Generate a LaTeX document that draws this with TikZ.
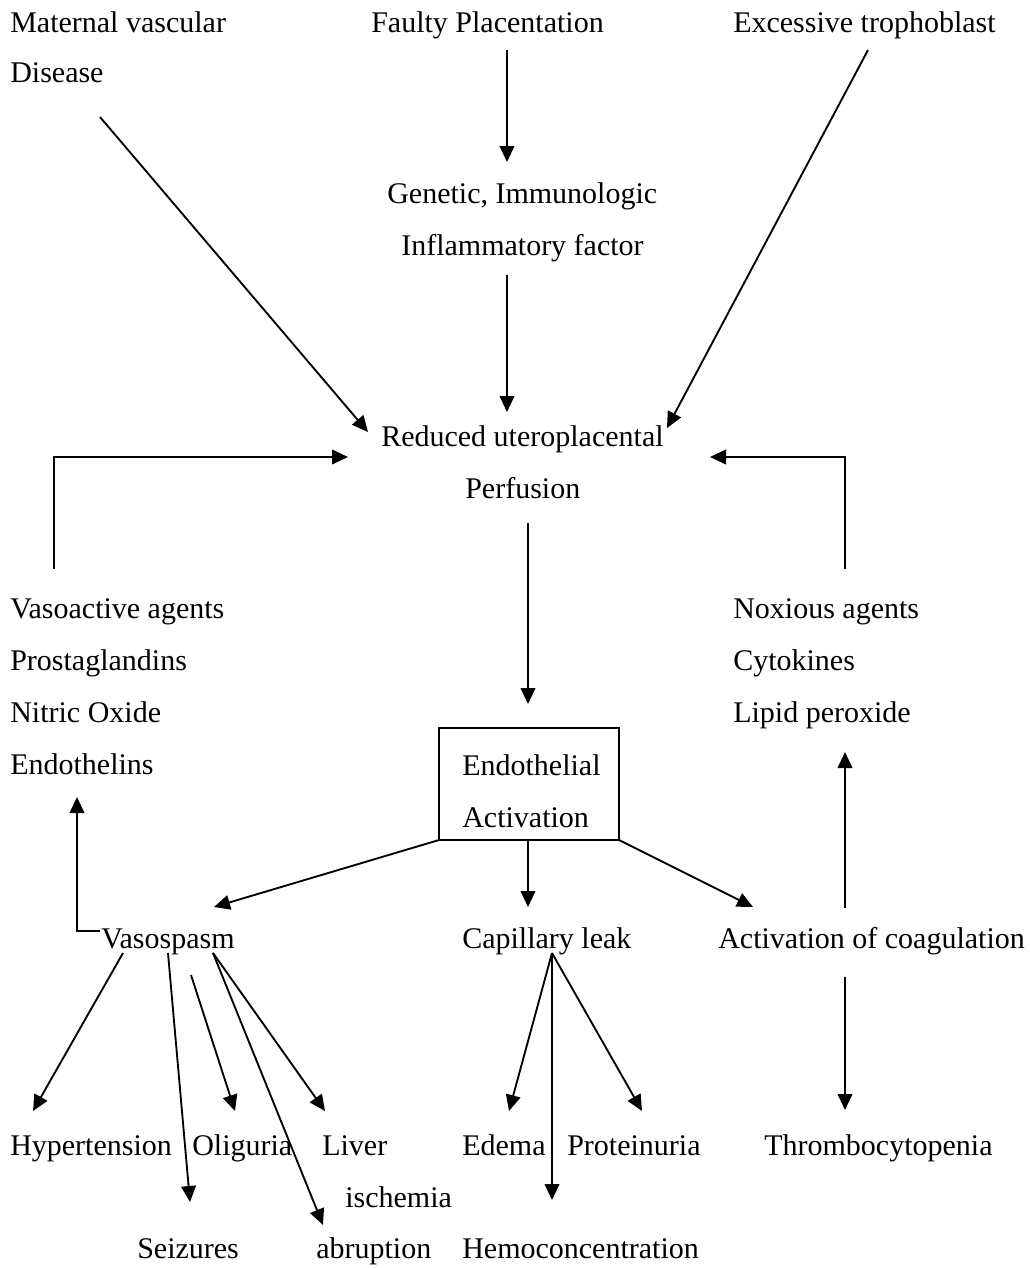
\documentclass[tikz,border=0pt]{standalone}
\usepackage{fontspec}
\setmainfont{Liberation Serif}
\usetikzlibrary{arrows.meta}
\newcommand{\dfs}{\fontsize{22.5}{27}\selectfont}
\tikzset{
  txt/.style={anchor=base west, inner sep=0pt, font=\dfs},
  arr/.style={-{Triangle[length=12pt,width=11pt]}, line width=1.4pt},
  boxnode/.style={draw, line width=1.4pt, minimum width=135pt, minimum height=84pt, inner sep=0pt}
}
\begin{document}
\begin{tikzpicture}[x=0.75pt,y=-0.75pt]
\path[use as bounding box] (0,0) rectangle (1030,1268);
% texts
\node[txt] (maternal) at (10,32) {Maternal vascular};
\node[txt] (disease) at (10,82) {Disease};
\node[txt] (faulty) at (371,32) {Faulty Placentation};
\node[txt] (excess) at (733,32) {Excessive trophoblast};
\node[txt] (genetic) at (387,203) {Genetic, Immunologic};
\node[txt] (inflam) at (401,255) {Inflammatory factor};
\node[txt] (reduced) at (381,446) {Reduced uteroplacental};
\node[txt] (perf) at (465,498) {Perfusion};
\node[txt] (vaso) at (10,618) {Vasoactive agents};
\node[txt] (prosta) at (10,670) {Prostaglandins};
\node[txt] (nitric) at (10,722) {Nitric Oxide};
\node[txt] (endothelins) at (10,774) {Endothelins};
\node[txt] (noxious) at (733,618) {Noxious agents};
\node[txt] (cyto) at (733,670) {Cytokines};
\node[txt] (lipid) at (733,722) {Lipid peroxide};
\node[boxnode] (endo) at (529,784) {};
\node[txt] (endoA) at (462,775) {Endothelial};
\node[txt] (endoB) at (462,827) {Activation};
\node[txt] (vasospasm) at (101,948) {Vasospasm};
\node[txt] (capleak) at (462,948) {Capillary leak};
\node[txt] (coag) at (718,948) {Activation of coagulation};
\node[txt] (hyper) at (10,1155) {Hypertension};
\node[txt] (olig) at (192,1155) {Oliguria};
\node[txt] (liver) at (322,1155) {Liver};
\node[txt] (isch) at (345,1207) {ischemia};
\node[txt] (seiz) at (137,1258) {Seizures};
\node[txt] (abrup) at (316,1258) {abruption};
\node[txt] (edema) at (462,1155) {Edema};
\node[txt] (protein) at (567,1155) {Proteinuria};
\node[txt] (hemo) at (462,1258) {Hemoconcentration};
\node[txt] (thrombo) at (764,1155) {Thrombocytopenia};
% connector end points
\coordinate (matOut) at (100,117);
\coordinate (redInL) at (368,432);
\coordinate (faultyOut) at (507,50);
\coordinate (genIn) at (507,162);
\coordinate (inflOut) at (507,275);
\coordinate (redInM) at (507,412);
\coordinate (excOut) at (868,50);
\coordinate (redInR) at (667,428);
\coordinate (vasoOut) at (54,569);
\coordinate (vasoCorner) at (54,457);
\coordinate (redInW) at (348,457);
\coordinate (noxOut) at (845,569);
\coordinate (noxCorner) at (845,457);
\coordinate (redInE) at (710,457);
\coordinate (perfOut) at (528,523);
\coordinate (endoIn) at (528,704);
\coordinate (endoSW) at (439,840);
\coordinate (endoS) at (528,840);
\coordinate (endoSE) at (619,840);
\coordinate (vspIn) at (214,907);
\coordinate (capIn) at (528,907);
\coordinate (coagIn) at (753,907);
\coordinate (vspOutW) at (100,931);
\coordinate (vspCorner) at (77,931);
\coordinate (endthIn) at (77,797);
\coordinate (coagOutN) at (845,908);
\coordinate (lipidIn) at (845,752);
\coordinate (coagOutS) at (845,977);
\coordinate (thrIn) at (845,1110);
\coordinate (vspO1) at (123,953);
\coordinate (vspO2) at (168,953);
\coordinate (vspO3) at (191,975);
\coordinate (vspO4) at (213,953);
\coordinate (hypIn) at (33,1111);
\coordinate (seizIn) at (190,1202);
\coordinate (oligIn) at (235,1111);
\coordinate (abrIn) at (323,1225);
\coordinate (livIn) at (325,1111);
\coordinate (capOut) at (552,953);
\coordinate (edIn) at (509,1111);
\coordinate (hemIn) at (552,1200);
\coordinate (proIn) at (642,1111);
% connectors
\draw[arr] (matOut) -- (redInL);
\draw[arr] (faultyOut) -- (genIn);
\draw[arr] (inflOut) -- (redInM);
\draw[arr] (excOut) -- (redInR);
\draw[arr] (vasoOut) -- (vasoCorner) -- (redInW);
\draw[arr] (noxOut) -- (noxCorner) -- (redInE);
\draw[arr] (perfOut) -- (endoIn);
\draw[arr] (endoSW) -- (vspIn);
\draw[arr] (endoS) -- (capIn);
\draw[arr] (endoSE) -- (coagIn);
\draw[arr] (vspOutW) -- (vspCorner) -- (endthIn);
\draw[arr] (coagOutN) -- (lipidIn);
\draw[arr] (coagOutS) -- (thrIn);
\draw[arr] (vspO1) -- (hypIn);
\draw[arr] (vspO2) -- (seizIn);
\draw[arr] (vspO3) -- (oligIn);
\draw[arr] (vspO4) -- (abrIn);
\draw[arr] (vspO4) -- (livIn);
\draw[arr] (capOut) -- (edIn);
\draw[arr] (capOut) -- (hemIn);
\draw[arr] (capOut) -- (proIn);
\end{tikzpicture}
\end{document}
